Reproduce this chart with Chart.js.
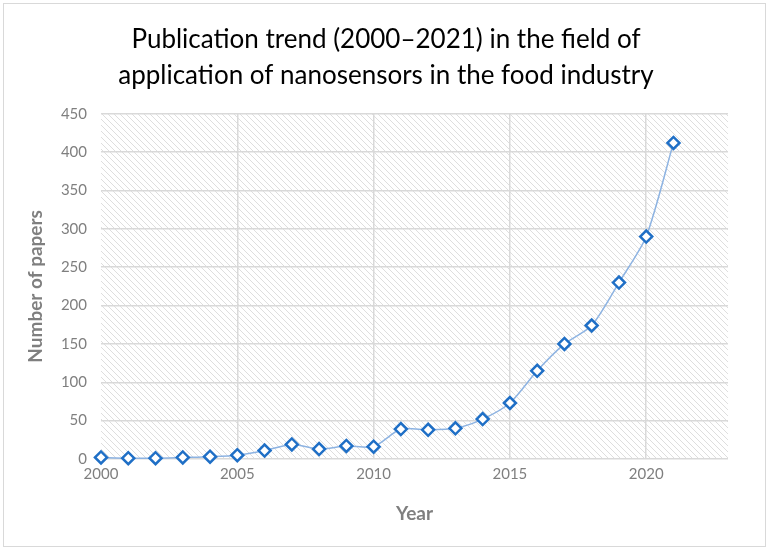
<!DOCTYPE html>
<html>
<head>
<meta charset="utf-8">
<script src="https://cdn.jsdelivr.net/npm/chart.js@4"></script>
<style>
html,body{margin:0;padding:0;background:#fff;}
#wrap{width:772px;height:551px;position:relative;}
</style>
</head>
<body>
<div id="wrap"><canvas id="c" width="772" height="551"></canvas></div>
<script>
const years = [2000,2001,2002,2003,2004,2005,2006,2007,2008,2009,2010,2011,2012,2013,2014,2015,2016,2017,2018,2019,2020,2021];
const papers = [2,1,1,2,3,5,11,19,13,17,16,39,38,40,52,73,115,150,174,230,290,412];
const xTicks = [2000,2005,2010,2015,2020];
const yTicks = [0,50,100,150,200,250,300,350,400,450];
const titleLines = ['Publication trend (2000\u20132021) in the field of','application of nanosensors in the food industry'];

const points = years.map((y,i)=>({x:y,y:papers[i]}));

function hatchPattern(ctx){
  const p = document.createElement('canvas');
  p.width = 6; p.height = 6;
  const g = p.getContext('2d');
  g.fillStyle = '#ffffff'; g.fillRect(0,0,6,6);
  g.strokeStyle = '#dedede'; g.lineWidth = 1;
  g.beginPath();
  g.moveTo(-1,-1); g.lineTo(7,7);
  g.moveTo(-7,-1); g.lineTo(1,7);
  g.moveTo(5,-1); g.lineTo(13,7);
  g.stroke();
  return ctx.createPattern(p,'repeat');
}

const bgPlugin = {
  id:'bg',
  beforeDraw(chart){
    const {ctx, chartArea:a} = chart;
    ctx.save();
    ctx.fillStyle = '#fff';
    ctx.fillRect(0,0,chart.width,chart.height);
    ctx.strokeStyle = '#d9d9d9'; ctx.lineWidth = 1;
    ctx.strokeRect(3.5,3.5,762,543);
    ctx.fillStyle = hatchPattern(ctx);
    ctx.fillRect(a.left,a.top,a.right-a.left,a.bottom-a.top);
    ctx.restore();
  }
};

new Chart(document.getElementById('c'),{
  type:'line',
  data:{datasets:[{
    data:points,
    clip:false,
    borderColor:'#8db3e2',
    borderWidth:1.5,
    tension:0.25,
    pointStyle:'rectRot',
    pointRadius:6,
    pointBorderWidth:2.5,
    pointBorderColor:'#1f6fc6',
    pointBackgroundColor:'#ffffff',
    fill:false
  }]},
  options:{
    responsive:false,
    animation:false,
    devicePixelRatio:1,
    layout:{padding:{left:20,right:20,top:22,bottom:22}},
    plugins:{
      legend:{display:false},
      tooltip:{enabled:false},
      title:{
        display:true,
        text:titleLines,
        color:'#000',
        font:{family:'Lato, Carlito, sans-serif',size:26,weight:'normal',lineHeight:1.38},
        padding:{top:0,bottom:20}
      }
    },
    scales:{
      x:{
        type:'linear',
        min:2000,max:2023,
        afterBuildTicks(s){ s.ticks = xTicks.map(v=>({value:v})); },
        afterFit(s){ s.height = 70; },
        ticks:{color:'#7f7f7f',font:{family:'Lato, Carlito, sans-serif',size:15},padding:6,maxRotation:0,callback:(v)=>String(v)},
        grid:{color:(c)=> c.tick && c.tick.value===2000 ? 'rgba(0,0,0,0)' : '#d9d9d9',lineWidth:1.5,drawTicks:false},
        border:{display:false},
        title:{display:true,text:'Year',color:'#7f7f7f',font:{family:'Lato, Carlito, sans-serif',size:19,weight:'bold'},padding:{top:6}}
      },
      y:{
        min:0,max:450,
        afterBuildTicks(s){ s.ticks = yTicks.map(v=>({value:v})); },
        afterFit(s){ s.width = 81; },
        ticks:{color:'#7f7f7f',font:{family:'Lato, Carlito, sans-serif',size:15},padding:14},
        grid:{color:'#d9d9d9',lineWidth:1.5,drawTicks:false},
        border:{display:false},
        title:{display:true,text:'Number of papers',color:'#7f7f7f',font:{family:'Lato, Carlito, sans-serif',size:19,weight:'bold'},padding:{bottom:4}}
      },
      yRight:{
        position:'right',
        min:0,max:450,
        afterFit(s){ s.width = 24; },
        ticks:{display:false},
        grid:{display:false},
        border:{display:false}
      }
    }
  },
  plugins:[bgPlugin]
});
</script>
</body>
</html>
